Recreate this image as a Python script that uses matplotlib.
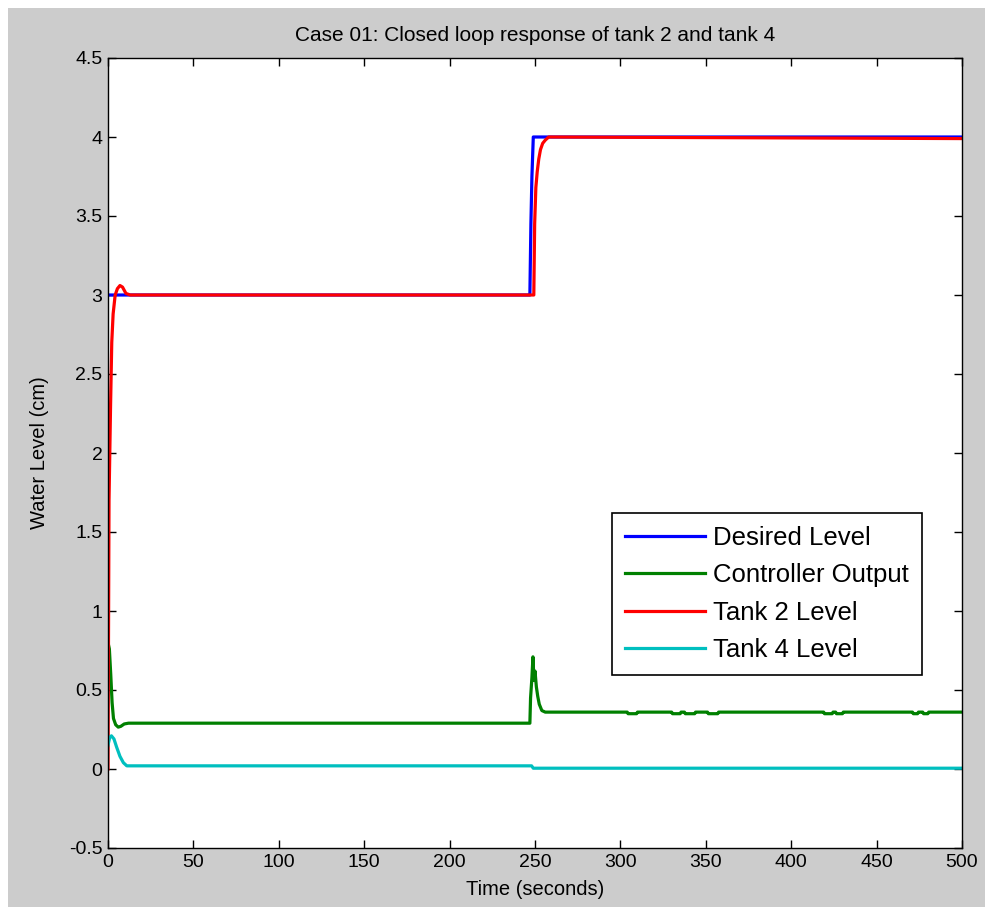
import matplotlib.pyplot as plt
from matplotlib.patches import Rectangle

# data (time in seconds, level in cm)
desired_t = [0, 247, 247.6, 248.2, 249, 500]
desired_y = [3.0, 3.0, 3.45, 3.75, 4.0, 4.0]

ctrl_t = [0, 0.8, 1.6, 2.4, 3.2, 4.5, 6, 7.5, 9.5, 12, 247, 247.4, 248.2, 248.8, 249.4,
          250, 250.8, 251.6, 252.5, 254, 256,
          304, 304.5, 309.5, 310, 330, 330.5, 335, 335.5, 337.5, 338, 343.5, 344, 351, 351.5,
          357, 357.5, 419, 419.5, 424, 424.5, 426, 426.5, 430, 430.5, 471, 471.5, 474, 474.5,
          477, 477.5, 480, 480.5, 500]
ctrl_y = [0.80, 0.76, 0.60, 0.42, 0.32, 0.28, 0.265, 0.27, 0.285, 0.29, 0.29, 0.45, 0.58, 0.71, 0.56,
          0.62, 0.52, 0.46, 0.41, 0.37, 0.36,
          0.36, 0.35, 0.35, 0.36, 0.36, 0.35, 0.35, 0.36, 0.36, 0.35, 0.35, 0.36, 0.36, 0.35,
          0.35, 0.36, 0.36, 0.35, 0.35, 0.36, 0.36, 0.35, 0.35, 0.36, 0.36, 0.35, 0.35, 0.36,
          0.36, 0.35, 0.35, 0.36, 0.36]

tank2_t = [0, 0.3, 0.6, 1.5, 2.2, 3.0, 4.2, 5.5, 7, 8.5, 10.5, 13, 249.3, 249.8, 250.5, 251.3,
           252.2, 253.2, 254.5, 256, 258, 500]
tank2_y = [0.0, 0.85, 1.70, 2.30, 2.70, 2.88, 3.0, 3.04, 3.06, 3.05, 3.01, 3.0, 3.0, 3.45, 3.68,
           3.78, 3.86, 3.92, 3.96, 3.98, 4.0, 3.99]

tank4_t = [0, 1, 2, 3.5, 5, 7, 9, 11, 248, 249, 500]
tank4_y = [0.15, 0.20, 0.21, 0.19, 0.14, 0.08, 0.04, 0.02, 0.02, 0.005, 0.005]

x_ticks = [0, 50, 100, 150, 200, 250, 300, 350, 400, 450, 500]
y_ticks = [-0.5, 0, 0.5, 1, 1.5, 2, 2.5, 3, 3.5, 4, 4.5]

plt.rcParams['font.family'] = ['Liberation Sans', 'DejaVu Sans']

fig = plt.figure(figsize=(9.85, 9.07), dpi=100, facecolor='white')
# matlab-style gray figure area with a thin white margin top/left
fig.patches.append(Rectangle((8 / 985, 0), 1 - 8 / 985, 1 - 8 / 907, transform=fig.transFigure,
                             facecolor='#cccccc', edgecolor='none', zorder=-1))

ax = fig.add_axes([108 / 985, 1 - 848 / 907, (962 - 108) / 985, (848 - 58) / 907])
ax.set_facecolor('white')

ax.plot(desired_t, desired_y, color='#0000ff', lw=2.3, label='Desired Level')
ax.plot(ctrl_t, ctrl_y, color='#008000', lw=2.3, label='Controller Output')
ax.plot(tank2_t, tank2_y, color='#ff0000', lw=2.3, label='Tank 2 Level')
ax.plot(tank4_t, tank4_y, color='#00bfbf', lw=2.3, label='Tank 4 Level')

ax.set_xlim(0, 500)
ax.set_ylim(-0.5, 4.5)
ax.set_xticks(x_ticks)
ax.set_yticks(y_ticks)
ax.set_xticklabels([str(v) for v in x_ticks])
ax.set_yticklabels([('%g' % v) for v in y_ticks])
ax.tick_params(direction='in', length=6, width=1, top=True, right=True, labelsize=14, pad=4)
for s in ax.spines.values():
    s.set_linewidth(1)
    s.set_color('black')

ax.set_title('Case 01: Closed loop response of tank 2 and tank 4', fontsize=15, pad=12)
ax.set_xlabel('Time (seconds)', fontsize=14.5, labelpad=7)
ax.set_ylabel('Water Level (cm)', fontsize=14.5, labelpad=14)

leg = ax.legend(loc='upper left', bbox_to_anchor=(612 / 985, 1 - 513 / 907),
                bbox_transform=fig.transFigure, borderaxespad=0, fontsize=18.5,
                fancybox=False, framealpha=1, edgecolor='black', handlelength=3.1,
                handletextpad=0.35, labelspacing=0.52, borderpad=0.5)
leg.get_frame().set_linewidth(1.2)

fig.savefig('out.png', dpi=100, facecolor=fig.get_facecolor())
